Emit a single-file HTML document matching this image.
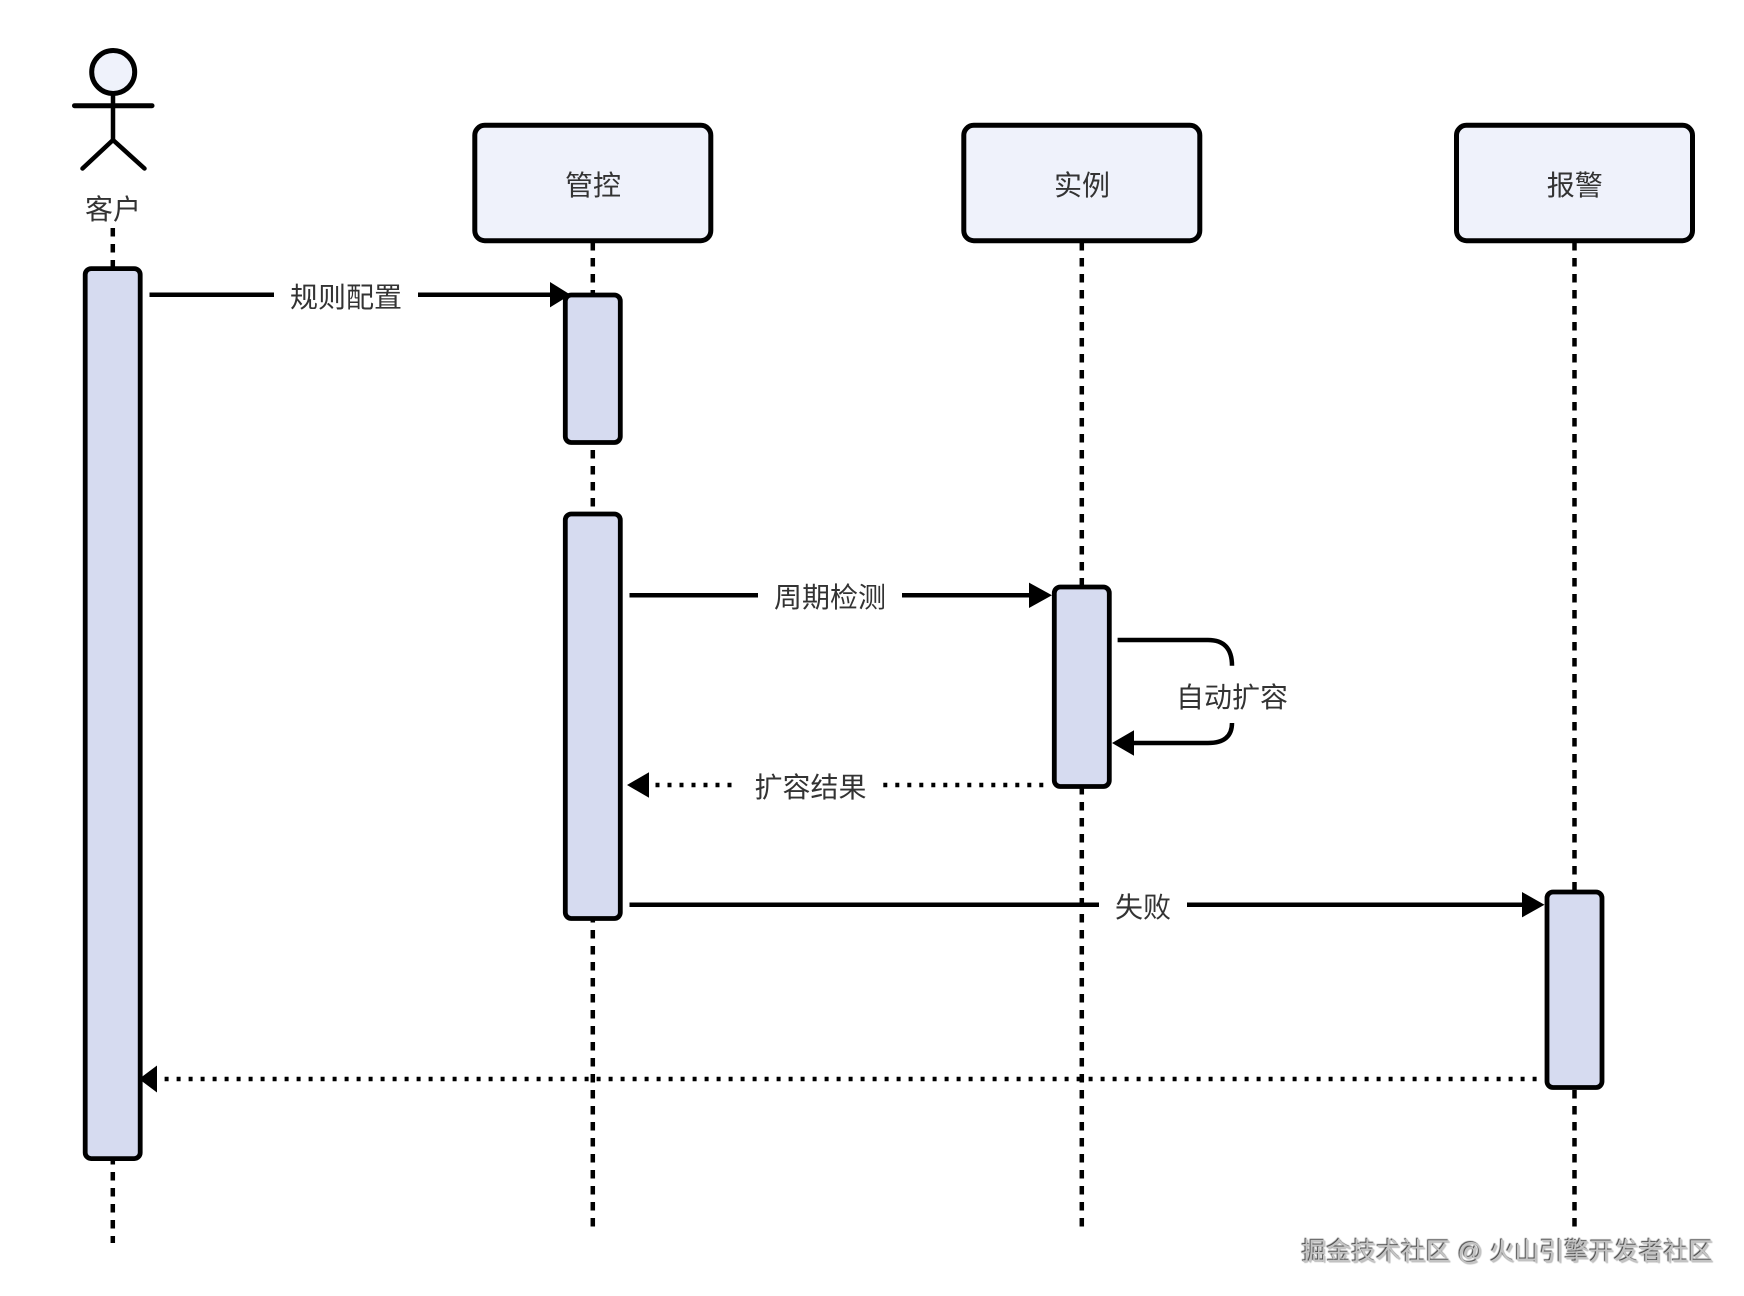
<!DOCTYPE html>
<html lang="zh">
<head>
<meta charset="utf-8">
<title>时序图</title>
<style>
html,body{margin:0;padding:0;background:#fff;}
body{width:1744px;height:1296px;overflow:hidden;position:relative;}
svg{position:absolute;left:0;top:0;}
text{font-family:"Liberation Sans","Noto Sans CJK SC",sans-serif;font-size:28px;fill:#333;text-anchor:middle;}
.wm{position:absolute;left:1301.5px;top:1234.5px;white-space:nowrap;font-family:"Liberation Sans","Noto Sans CJK SC",sans-serif;font-size:24.85px;line-height:36px;color:#c4c4c4;text-shadow:-1px -1px 1px #444,1px 1px 1px #bbb;}
</style>
</head>
<body>
<svg width="1744" height="1296" viewBox="0 0 1744 1296" xmlns="http://www.w3.org/2000/svg">
  <!-- lifelines -->
  <g stroke="#000" stroke-width="4.5" stroke-dasharray="8.5 7.5" fill="none">
    <line x1="112.8" y1="228" x2="112.8" y2="1243"/>
    <line x1="592.8" y1="242" x2="592.8" y2="1227"/>
    <line x1="1081.8" y1="242" x2="1081.8" y2="1227"/>
    <line x1="1574.5" y1="242" x2="1574.5" y2="1227"/>
  </g>

  <!-- actor -->
  <g stroke="#000" fill="none" stroke-linecap="round">
    <circle cx="113.2" cy="72" r="21.5" fill="#eff2fb" stroke-width="5"/>
    <line x1="113" y1="95" x2="113" y2="140" stroke-width="4.5"/>
    <line x1="74.5" y1="105.7" x2="152" y2="105.7" stroke-width="5"/>
    <polyline points="82.5,168.5 113,140 144.5,168.5" stroke-width="4.5" stroke-linejoin="round"/>
  </g>
  <text x="113" y="219">客户</text>

  <!-- head boxes -->
  <g fill="#eff2fb" stroke="#000" stroke-width="5">
    <rect x="474.8" y="125.3" width="236" height="115.4" rx="10"/>
    <rect x="963.8" y="125.3" width="236" height="115.4" rx="10"/>
    <rect x="1456.5" y="125.3" width="236" height="115.4" rx="10"/>
  </g>
  <text x="593" y="195">管控</text>
  <text x="1082" y="195">实例</text>
  <text x="1574.8" y="195">报警</text>

  <!-- activations -->
  <g fill="#d6dbf0" stroke="#000" stroke-width="4.8">
    <rect x="85.2" y="268.6" width="55" height="890" rx="6"/>
    <rect x="565.3" y="295" width="55" height="147.5" rx="6"/>
    <rect x="565.3" y="514" width="55" height="404.5" rx="6"/>
    <rect x="1054.3" y="587" width="55" height="199.5" rx="6"/>
    <rect x="1547" y="892" width="55" height="195.5" rx="6"/>
  </g>

  <!-- solid messages -->
  <g stroke="#000" stroke-width="4.5" fill="none">
    <line x1="149.5" y1="294.7" x2="274" y2="294.7"/>
    <line x1="418" y1="294.7" x2="552" y2="294.7"/>
    <line x1="629.5" y1="595.3" x2="758" y2="595.3"/>
    <line x1="902" y1="595.3" x2="1030" y2="595.3"/>
    <line x1="629.5" y1="904.7" x2="1099" y2="904.7"/>
    <line x1="1187" y1="904.7" x2="1524" y2="904.7"/>
    <path d="M1117.6 640 H1208 Q1232 640 1232 665.7"/>
    <path d="M1232 723 Q1232 743 1208 743 H1132"/>
  </g>

  <!-- dotted messages -->
  <g stroke="#000" stroke-width="4.5" stroke-dasharray="4 8" fill="none">
    <line x1="655.5" y1="785" x2="734" y2="785"/>
    <line x1="883.3" y1="785" x2="1046" y2="785"/>
    <line x1="164.6" y1="1079" x2="1541" y2="1079"/>
  </g>

  <!-- arrowheads -->
  <g fill="#000">
    <polygon points="550,282 570.5,294.7 550,307.4"/>
    <polygon points="1029,582.6 1052,595.3 1029,608"/>
    <polygon points="1522,892 1544.5,904.7 1522,917.4"/>
    <polygon points="1134,730.3 1112,743 1134,755.7"/>
    <polygon points="649,772.3 627,785 649,797.7"/>
    <polygon points="157,1065.5 139,1079 157,1092.5"/>
  </g>

  <!-- labels -->
  <text x="346" y="307">规则配置</text>
  <text x="830" y="607">周期检测</text>
  <text x="810.5" y="797">扩容结果</text>
  <text x="1232" y="707">自动扩容</text>
  <text x="1143" y="917">失败</text>
</svg>
<div class="wm">掘金技术社区 @ 火山引擎开发者社区</div>
</body>
</html>
